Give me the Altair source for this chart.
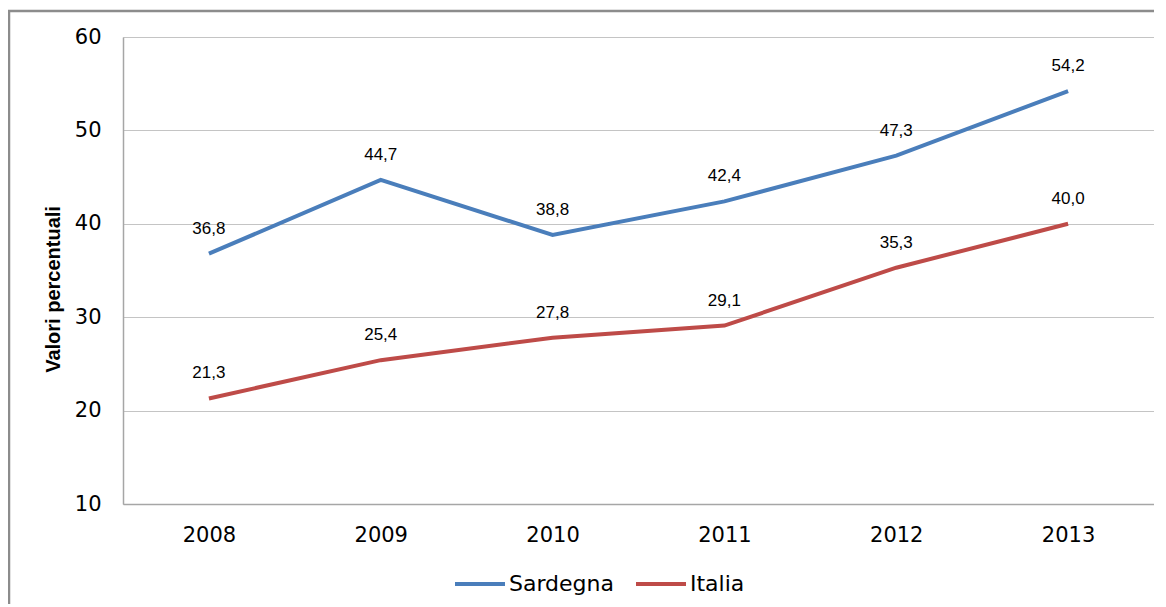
import altair as alt
import pandas as pd

years = ["2008", "2009", "2010", "2011", "2012", "2013"]
sardegna = [36.8, 44.7, 38.8, 42.4, 47.3, 54.2]
italia = [21.3, 25.4, 27.8, 29.1, 35.3, 40.0]
series_names = ["Sardegna", "Italia"]
series_colors = ["#4A7EBB", "#BE4B48"]

rows = []
for name, vals in zip(series_names, [sardegna, italia]):
    for y, v in zip(years, vals):
        rows.append({"anno": y, "serie": name, "valore": v,
                     "etichetta": f"{v:.1f}".replace(".", ",")})
df = pd.DataFrame(rows)

x = alt.X("anno:O", title=None, sort=years,
          scale=alt.Scale(type="point", padding=0.5),
          axis=alt.Axis(labelAngle=0, ticks=False, labelPadding=20, grid=False,
                        labelFont="DejaVu Sans", labelFontSize=21, labelColor="#000000",
                        domainColor="#A6A6A6", domainWidth=1.5))
y = alt.Y("valore:Q", title="Valori percentuali",
          scale=alt.Scale(domain=[10, 60], nice=False, zero=False),
          axis=alt.Axis(values=[10, 20, 30, 40, 50, 60], ticks=False, labelPadding=22,
                        labelFont="DejaVu Sans", labelFontSize=21, labelColor="#000000",
                        titleFont="Liberation Sans", titleFontSize=20, titleFontWeight="bold",
                        titleColor="#000000", titleX=-70, titleY=252, titleBaseline="middle",
                        grid=True, gridColor="#C4C4C4", gridWidth=1,
                        domainColor="#A6A6A6", domainWidth=1.5))
color = alt.Color("serie:N", title=None,
                  scale=alt.Scale(domain=series_names, range=series_colors),
                  legend=alt.Legend(orient="none", legendX=330, legendY=520,
                                    direction="horizontal", symbolType="stroke",
                                    symbolSize=2500, symbolStrokeWidth=4,
                                    labelFont="DejaVu Sans", labelFontSize=22,
                                    labelColor="#000000", labelOffset=2,
                                    columnPadding=14))

base = alt.Chart(df).encode(x=x, y=y)
lines = base.mark_line(strokeWidth=4).encode(color=color)
labels = base.mark_text(dy=-25, font="Liberation Sans", fontSize=17, color="#000000").encode(
    text="etichetta:N")

frame = alt.Chart(alt.Data(values=[{"k": 1}])).mark_rect(
    fill=None, stroke="#8C8C8C", strokeWidth=2.5
).encode(x=alt.value(-114), x2=alt.value(1200), y=alt.value(-26), y2=alt.value(700))

chart = (frame + lines + labels).properties(
    width=1031, height=467,
    autosize=alt.AutoSizeParams(type="none"),
    padding={"left": 115, "top": 29, "right": 0, "bottom": 100},
).configure_view(stroke=None).configure(background="white")

chart.save("out.html", embed_options={"renderer": "svg", "actions": False})
